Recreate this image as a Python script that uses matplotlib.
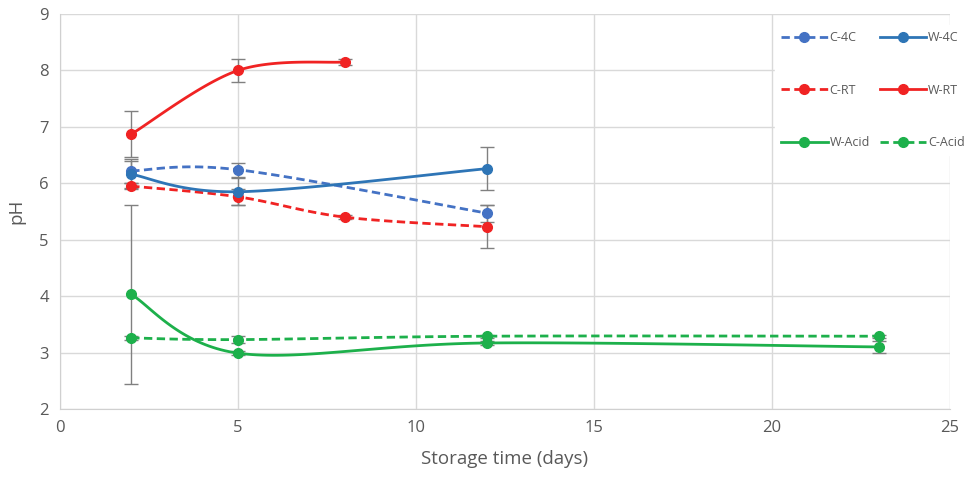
import numpy as np
import matplotlib.pyplot as plt

plt.rcParams['font.family'] = ['Open Sans', 'DejaVu Sans']

# storage times (days) for each series
days_4c = [2, 5, 12]
days_w4c = [2, 5, 12]
days_rt = [2, 5, 8, 12]
days_wrt = [2, 5, 8]
days_acid = [2, 5, 12, 23]

# pH means
c_4c = [6.22, 6.24, 5.47]
w_4c = [6.16, 5.85, 6.26]
c_rt = [5.95, 5.76, 5.40, 5.23]
w_rt = [6.87, 8.00, 8.15]
w_acid = [4.03, 2.99, 3.17, 3.10]
c_acid = [3.26, 3.23, 3.29, 3.29]

# error bars
c_4c_err = [0.21, 0.12, 0.15]
w_4c_err = [0.24, 0.24, 0.38]
c_rt_err = [0.05, 0.14, 0.03, 0.38]
w_rt_err = [0.41, 0.20, 0.05]
w_acid_err = [1.59, 0.03, 0.03, 0.10]
c_acid_err = [0.03, 0.06, 0.03, 0.03]


def smooth(x, y, n=40):
    # excel-style smoothed line (bezier through the points)
    x = np.asarray(x, float)
    y = np.asarray(y, float)
    xs, ys = [], []
    for i in range(len(x) - 1):
        i0 = max(i - 1, 0)
        i3 = min(i + 2, len(x) - 1)
        p0 = np.array([x[i], y[i]])
        p3 = np.array([x[i + 1], y[i + 1]])
        c1 = p0 + (np.array([x[i + 1], y[i + 1]]) - np.array([x[i0], y[i0]])) / 6
        c2 = p3 - (np.array([x[i3], y[i3]]) - np.array([x[i], y[i]])) / 6
        t = np.linspace(0, 1, n)[:, None]
        pts = (1 - t)**3 * p0 + 3 * (1 - t)**2 * t * c1 + 3 * (1 - t) * t**2 * c2 + t**3 * p3
        xs.extend(pts[:, 0])
        ys.extend(pts[:, 1])
    return xs, ys


fig = plt.figure(figsize=(9.68, 4.83), dpi=100)
ax = fig.add_axes([60 / 968, 1 - 409 / 483, 890 / 968, 395 / 483])

series = [
    ('C-4C', days_4c, c_4c, c_4c_err, '#4472C4', '--'),
    ('C-RT', days_rt, c_rt, c_rt_err, '#F02323', '--'),
    ('W-Acid', days_acid, w_acid, w_acid_err, '#1DB04B', '-'),
    ('W-4C', days_w4c, w_4c, w_4c_err, '#2E75B6', '-'),
    ('W-RT', days_wrt, w_rt, w_rt_err, '#F02323', '-'),
    ('C-Acid', days_acid, c_acid, c_acid_err, '#1DB04B', '--'),
]

handles = []
for name, x, y, err, col, ls in series:
    ax.errorbar(x, y, yerr=err, fmt='none', ecolor='#808080', elinewidth=1,
                capsize=5, capthick=1, zorder=2)
    sx, sy = smooth(x, y)
    ax.plot(sx, sy, color=col, ls=ls, lw=2, zorder=3,
            dashes=(3, 1.6) if ls == '--' else (None, None))
    ax.plot(x, y, 'o', color=col, ms=7, zorder=4)
    h, = ax.plot([], [], color=col, ls=ls, lw=2, marker='o', ms=7, label=name)
    if ls == '--':
        h.set_dashes((3, 1.6))
    handles.append(h)

ax.set_xlim(0, 25)
ax.set_ylim(2, 9)
ax.set_xticks(range(0, 26, 5))
ax.set_yticks(range(2, 10))
ax.grid(True, color='#d9d9d9', lw=1)
ax.set_axisbelow(True)
for s in ['top', 'right']:
    ax.spines[s].set_visible(False)
for s in ['left', 'bottom']:
    ax.spines[s].set_color('#d0d0d0')
ax.tick_params(length=0, labelsize=12, colors='#595959', pad=8)
ax.set_xlabel('Storage time (days)', fontsize=13.5, color='#595959', labelpad=10)
ax.set_ylabel('pH', fontsize=13.5, color='#595959', labelpad=10)

leg = fig.legend(handles=handles, ncol=2, loc='upper left',
                 bbox_to_anchor=(775 / 968, 1 - 25 / 483), frameon=True,
                 fontsize=9, handlelength=3.7, labelspacing=3.15,
                 columnspacing=0.8, handletextpad=0.15, borderpad=0.5,
                 borderaxespad=0)
leg.get_frame().set_facecolor('white')
leg.get_frame().set_edgecolor('white')
leg.get_frame().set_alpha(1)
for t in leg.get_texts():
    t.set_color('#595959')

fig.savefig('out.png', dpi=100)
